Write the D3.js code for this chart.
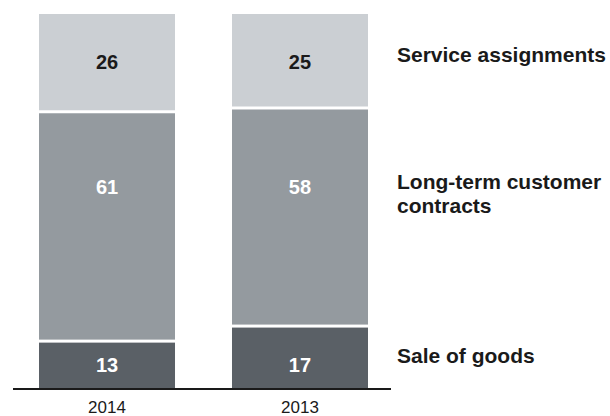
<!DOCTYPE html>
<html>
<head>
<meta charset="utf-8">
<script src="https://cdn.jsdelivr.net/npm/d3@7"></script>
<style>
  html, body { margin: 0; padding: 0; background: #ffffff; }
  svg { display: block; font-family: "Liberation Sans", Arial, Helvetica, sans-serif; }
</style>
</head>
<body>
<svg id="chart" width="610" height="416"></svg>
<script>
// Revenue split by type, per cent of total
const years = ["2014", "2013"];
const seriesNames = ["Sale of goods", "Long-term customer contracts", "Service assignments"];
const saleOfGoods = [13, 17];
const longTermContracts = [61, 58];
const serviceAssignments = [26, 25];
const legendLines = [["Sale of goods"], ["Long-term customer", "contracts"], ["Service assignments"]];

const colors = ["#5a6066", "#949a9f", "#cbcfd3"];
const valueColors = ["#ffffff", "#ffffff", "#1a1a1a"];

const svg = d3.select("#chart");

const rows = years.map((yr, i) => ({
  year: yr,
  "Sale of goods": saleOfGoods[i],
  "Long-term customer contracts": longTermContracts[i],
  "Service assignments": serviceAssignments[i]
}));

const stack = d3.stack().keys(seriesNames);
const layers = stack(rows);

const x = d3.scaleBand().domain(years).range([39, 368]).paddingInner(0.2953).paddingOuter(0);
const y = d3.scaleLinear().domain([0, 100]).range([390, 14]);

const gap = 1.5;
// Label rows (vertical placement of the value labels for each series)
const labelRowY = [365, 187, 62];

layers.forEach((layer, si) => {
  const g = svg.append("g");
  g.selectAll("rect")
    .data(layer)
    .join("rect")
    .attr("x", d => x(d.data.year))
    .attr("width", x.bandwidth())
    .attr("y", d => y(d[1]) + (si < layers.length - 1 ? gap : 0))
    .attr("height", d => {
      const top = y(d[1]) + (si < layers.length - 1 ? gap : 0);
      const bottom = y(d[0]) - (si > 0 ? gap : 0);
      return bottom - top;
    })
    .attr("fill", colors[si]);

  g.selectAll("text")
    .data(layer)
    .join("text")
    .attr("x", d => x(d.data.year) + x.bandwidth() / 2)
    .attr("y", labelRowY[si])
    .attr("dy", "0.35em")
    .attr("text-anchor", "middle")
    .attr("font-size", 20)
    .attr("font-weight", "bold")
    .attr("fill", valueColors[si])
    .text(d => d[1] - d[0]);
});

// Baseline
svg.append("line")
  .attr("x1", 13).attr("x2", 391)
  .attr("y1", 389).attr("y2", 389)
  .attr("stroke", "#1a1a1a")
  .attr("stroke-width", 2);

// Year labels
const xAxis = d3.axisBottom(x).tickSize(0).tickPadding(0);
const axisG = svg.append("g").attr("transform", "translate(0,401)").call(xAxis);
axisG.select(".domain").remove();
axisG.selectAll("text")
  .attr("font-size", 17)
  .attr("font-family", "\"Liberation Sans\", Arial, Helvetica, sans-serif")
  .attr("fill", "#1a1a1a")
  .attr("dy", "0.71em");

// Series labels on the right
const legendBaseY = [363, 189, 62];
legendLines.forEach((lines, si) => {
  const t = svg.append("text")
    .attr("x", 397)
    .attr("y", legendBaseY[si])
    .attr("font-size", 21)
    .attr("font-weight", "bold")
    .attr("fill", "#1a1a1a");
  lines.forEach((ln, li) => {
    t.append("tspan").attr("x", 397).attr("dy", li === 0 ? 0 : 24).text(ln);
  });
});
</script>
</body>
</html>
